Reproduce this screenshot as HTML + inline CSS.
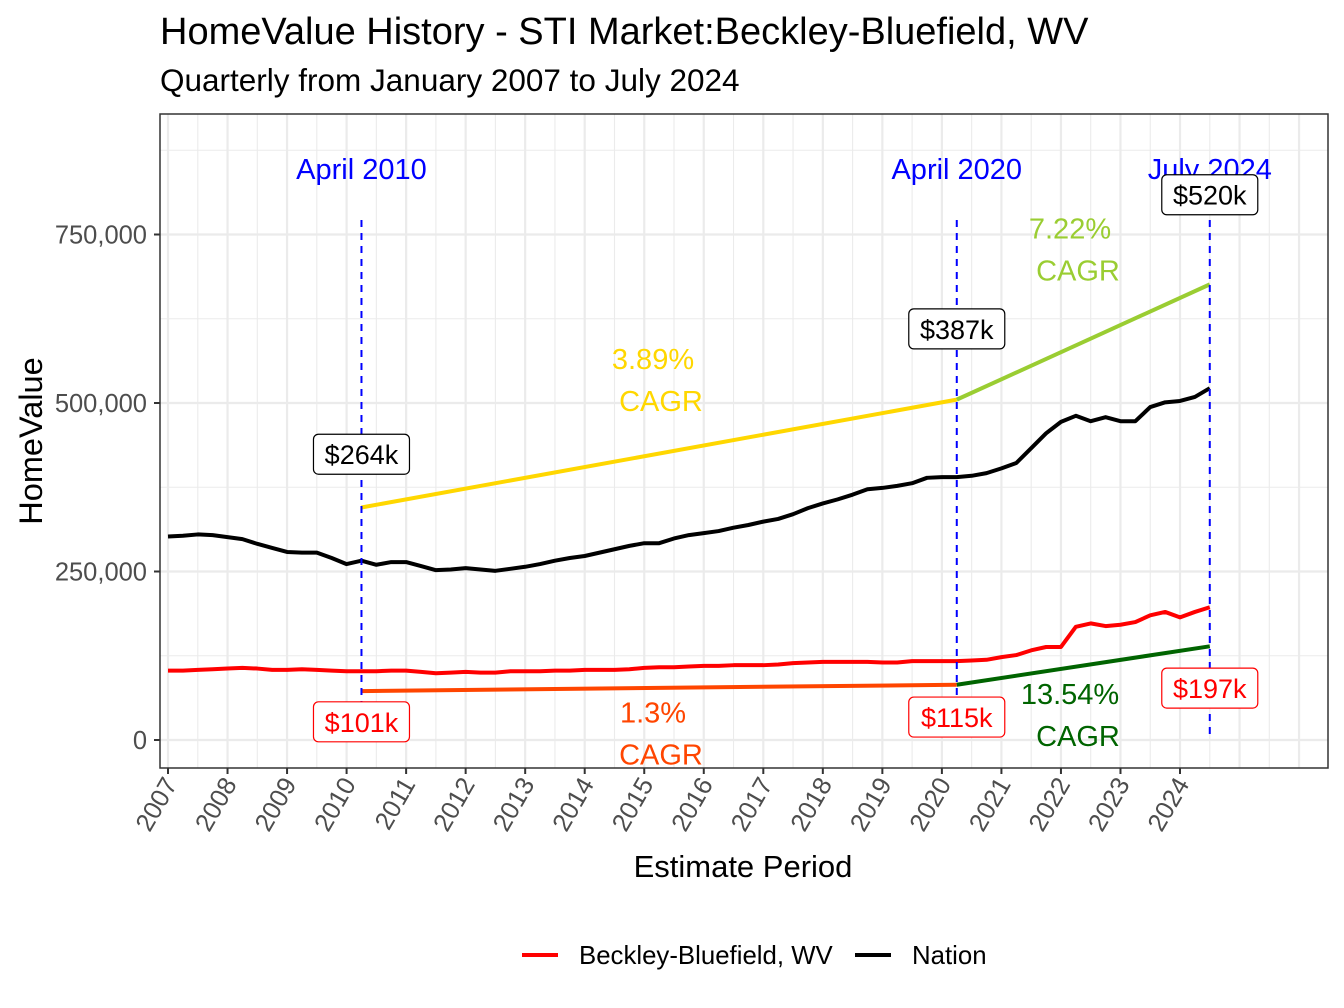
<!DOCTYPE html>
<html><head><meta charset="utf-8"><style>
html,body{margin:0;padding:0;background:#fff;}
svg{display:block;font-family:"Liberation Sans",Arial,sans-serif;}
</style></head><body>
<svg id="chart" width="1344" height="1008" viewBox="0 0 1344 1008" xmlns="http://www.w3.org/2000/svg">
<rect x="0" y="0" width="1344" height="1008" fill="#fff"/>
<text x="160" y="44" font-size="38" fill="#000">HomeValue History - STI Market:Beckley-Bluefield, WV</text>
<text x="160" y="91" font-size="31.5" fill="#000">Quarterly from January 2007 to July 2024</text>
<g id="grid"></g>
<g id="marks"></g>
<g id="annot"></g>
<rect x="160" y="114" width="1168" height="654" fill="none" stroke="#333" stroke-width="1.5"/>
<g id="axes"></g>
<text transform="translate(42,441) rotate(-90)" text-anchor="middle" font-size="32.5" fill="#000">HomeValue</text>
<text x="743" y="877" text-anchor="middle" font-size="31" fill="#000">Estimate Period</text>
<g>
<line x1="522" y1="955" x2="558" y2="955" stroke="#f00" stroke-width="4"/>
<text x="579" y="964" font-size="25.8" fill="#000">Beckley-Bluefield, WV</text>
<line x1="855" y1="955" x2="891" y2="955" stroke="#000" stroke-width="4"/>
<text x="912" y="964" font-size="25.8" fill="#000">Nation</text>
</g>
</svg>
<script>
const startYear = 2007;
const nationValues = [302,303,305,304, 301,298,291,285, 279,278,278,270, 261,266,260,264, 264,258,252,253, 255,253,251,254, 257,261,266,270, 273,278,283,288, 292,292,299,304, 307,310,315,319, 324,328,335,344, 351,357,364,372, 374,377,381,389, 390,390,392,396, 403,411,433,455, 472,481,473,479, 473,473,494,501, 503,509,522];
const localValues = [103,103,104,105, 106,107,106,104, 104,105,104,103, 102,102,102,103, 103,101,99,100, 101,100,100,102, 102,102,103,103, 104,104,104,105, 107,108,108,109, 110,110,111,111, 111,112,114,115, 116,116,116,116, 115,115,117,117, 117,117,118,119, 123,126,133,138, 138,168,173,169, 171,175,185,190, 182,190,197];
const yTicks = [0,250000,500000,750000];
const yTickLabels = ["0","250,000","500,000","750,000"];
const xTickYears = [2007,2008,2009,2010,2011,2012,2013,2014,2015,2016,2017,2018,2019,2020,2021,2022,2023,2024];
const markerYears = [2010.25,2020.25,2024.5];
const markerNames = ["April 2010","April 2020","July 2024"];
const nationLabels = ["$264k","$387k","$520k"];
const nationLabelValues = [424,610,809];
const localLabels = ["$101k","$115k","$197k"];
const localLabelValues = [27,34,77];
const cagrNationStart = [345,505];
const cagrNationEnd = [505,676];
const cagrLocalStart = [72.6,82];
const cagrLocalEnd = [82,139];
const cagrNationText = ["3.89%","7.22%"];
const cagrLocalText = ["1.3%","13.54%"];
const cagrNationTextValues = [565,759];
const cagrLocalTextValues = [41,68];

const NS="http://www.w3.org/2000/svg";
function X(t){return 168+(t-2007)*59.53;}
function Y(v){return 740-v/250000*168.5;}
function mk(tag,attrs,parent){const e=document.createElementNS(NS,tag);for(const k in attrs)e.setAttribute(k,attrs[k]);document.getElementById(parent).appendChild(e);return e;}

for(let v=0;v<=875000;v+=125000){
  const major=v%250000===0;
  const l=mk('line',{x1:160,x2:1328,y1:Y(v),y2:Y(v),stroke:'#ebebeb','stroke-width':major?2.2:1.1},'grid');
  
  
}
for(let t=2007;t<=2026;t+=0.5){
  const major=Number.isInteger(t);
  const l=mk('line',{x1:X(t),x2:X(t),y1:114,y2:768,stroke:'#ebebeb','stroke-width':major?2.2:1.1},'grid');
  
  
}
yTicks.forEach((v,i)=>{
  const tk=mk('line',{x1:154,x2:160,y1:Y(v),y2:Y(v),stroke:'#333','stroke-width':2},'axes');
  
  
  const tx=mk('text',{x:147,y:Y(v)+9,'text-anchor':'end','font-size':25.5,fill:'#4d4d4d'},'axes');
  tx.textContent=yTickLabels[i];
  
  
});
xTickYears.forEach(yr=>{
  const x=X(yr);
  const tk=mk('line',{x1:x,x2:x,y1:768,y2:774,stroke:'#333','stroke-width':2},'axes');
  
  
  const tx=mk('text',{transform:`translate(${x+10},${784}) rotate(-60)`,'text-anchor':'end','font-size':25.5,fill:'#4d4d4d'},'axes');
  tx.textContent=String(yr);
  
  
});
function pts(arr){return arr.map((v,i)=>X(startYear+i*0.25)+','+Y(v*1000)).join(' ');}
const ln=mk('polyline',{points:pts(nationValues),fill:'none',stroke:'#000','stroke-width':4,'stroke-linejoin':'round'},'marks');


const ll=mk('polyline',{points:pts(localValues),fill:'none',stroke:'#f00','stroke-width':4,'stroke-linejoin':'round'},'marks');


const nCols=['#FFD700','#9ACD32'], lCols=['#FF4500','#006400'];
const txtCenters=[653,1070];
for(let i=0;i<2;i++){
  const a=mk('line',{x1:X(markerYears[i]),x2:X(markerYears[i+1]),y1:Y(cagrNationStart[i]*1000),y2:Y(cagrNationEnd[i]*1000),stroke:nCols[i],'stroke-width':4},'marks');
  
  
  const b=mk('line',{x1:X(markerYears[i]),x2:X(markerYears[i+1]),y1:Y(cagrLocalStart[i]*1000),y2:Y(cagrLocalEnd[i]*1000),stroke:lCols[i],'stroke-width':4},'marks');
  
  
  const mx=txtCenters[i];
  const ny=Y(cagrNationTextValues[i]*1000);
  const t1=mk('text',{x:mx,y:ny+10,'text-anchor':'middle','font-size':29,fill:nCols[i]},'annot');
  t1.textContent=cagrNationText[i];
  
  
  const t2=mk('text',{x:mx+8,y:ny+52,'text-anchor':'middle','font-size':29,fill:nCols[i]},'annot');
  t2.textContent='CAGR';
  
  
  const ly=Y(cagrLocalTextValues[i]*1000);
  const t3=mk('text',{x:mx,y:ly+10,'text-anchor':'middle','font-size':29,fill:lCols[i]},'annot');
  t3.textContent=cagrLocalText[i];
  
  
  const t4=mk('text',{x:mx+8,y:ly+52,'text-anchor':'middle','font-size':29,fill:lCols[i]},'annot');
  t4.textContent='CAGR';
  
  
}
markerYears.forEach((t,i)=>{
  const x=X(t);
  const d=mk('line',{x1:x,x2:x,y1:220,y2:740,stroke:'#00f','stroke-width':2,'stroke-dasharray':'7,6'},'annot');
  
  
  const m=mk('text',{x:x,y:179,'text-anchor':'middle','font-size':29,fill:'#00f'},'annot');
  m.textContent=markerNames[i];
  
  
  [[nationLabels[i],nationLabelValues[i],'#000','nation-value-label'],[localLabels[i],localLabelValues[i],'#f00','local-value-label']].forEach(([txt,v,c,nm])=>{
    const cy=Y(v*1000);
    const r=mk('rect',{x:x-48,y:cy-20,width:96,height:40,rx:5,fill:'#fff',stroke:c,'stroke-width':1.2},'annot');
    
    
    const tx=mk('text',{x:x,y:cy+10,'text-anchor':'middle','font-size':27,fill:c},'annot');
    tx.textContent=txt;
    
    
  });
});
</script>
</body></html>
